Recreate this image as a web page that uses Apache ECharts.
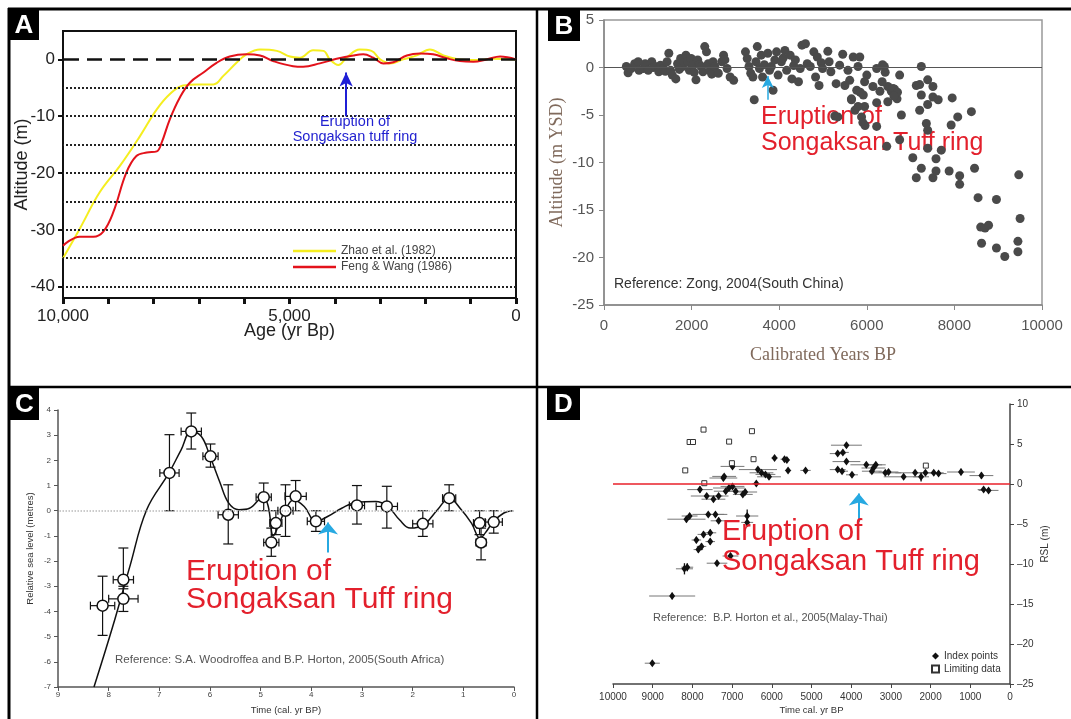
<!DOCTYPE html>
<html>
<head>
<meta charset="utf-8">
<script src="https://cdn.jsdelivr.net/npm/echarts@6/dist/echarts.min.js"></script>
<style>
html, body { margin: 0; padding: 0; background: #fff; }
#chart { width: 1071px; height: 719px; }
</style>
</head>
<body>
<div id="chart"></div>
<script>
// ---- panel A : sea-level curves (age yr BP, altitude m)
var zhaoA = [[10000,-35],[9630,-29.8],[9190,-23.4],[8740,-18.7],[8300,-13.5],[7930,-8.8],[7640,-6.1],[7350,-4.6],
  [7050,-4.4],[6680,-4.4],[6460,-2.9],[6170,-0.6],[5950,0.9],[5650,1.75],[5280,1.5],[4990,0.5],[4770,0.3],[4480,1.6],
  [4250,1.5],[4110,0],[3920,-1.0],[3740,0.3],[3450,1.75],[3190,1.5],[3000,0],[2780,-0.7],[2490,0],[2190,0.7],
  [1900,1.75],[1600,0.7],[1240,0],[870,-0.1],[500,0.1],[0,0]];
var fengA = [[10000,-32.8],[9630,-31.2],[9330,-31.2],[9110,-30.3],[8890,-26.9],[8600,-19.9],[8380,-17],[8150,-16.4],
  [7930,-16.2],[7820,-14.6],[7640,-10.5],[7420,-6.7],[7200,-4.1],[6900,-2.3],[6610,-0.6],[6320,0.5],[5950,0.9],
  [5650,0.7],[5360,-0.3],[4920,-1.2],[4700,-1.3],[4330,-0.7],[3960,0.1],[3590,0.7],[3370,0.9],[3150,0.3],[2930,-0.7],
  [2710,-0.5],[2410,0.7],[2120,1.05],[1830,0.9],[1530,0.2],[1240,-0.3],[940,-0.4],[650,0],[350,0.5],[0,0]];
var ageLabelsA = [10000, 5000, 0];
var altLabelsA = [0, -10, -20, -30, -40];
var dottedLevelsA = [-5, -10, -15, -20, -25, -30, -35, -40];

// ---- panel B : Zong 2004 scatter (calibrated yr BP, m YSD)
var zongB = [
  [510,0.1],[550,-0.55],[620,-0.1],[700,0.4],[780,0.6],[800,-0.3],[900,-0.1],[940,0.4],[1010,-0.3],[1090,0.6],
  [1120,0],[1170,0.1],[1250,-0.45],[1290,0.25],[1360,-0.1],[1400,-0.4],[1440,0.6],[1480,1.5],[1520,-0.3],[1560,-0.8],
  [1640,-1.2],[1680,0.4],[1720,-0.2],[1750,0.95],[1790,0.1],[1830,0.5],[1870,1.3],[1910,0.6],[1950,-0.3],[1990,0.95],
  [2030,0.25],[2060,-0.5],[2100,-1.3],[2140,0.8],[2180,0.3],[2220,0.1],[2260,-0.45],[2300,2.2],[2340,1.65],[2380,0.4],
  [2420,-0.3],[2460,-0.7],[2490,0.6],[2530,0.1],[2610,-0.6],[2690,0.6],[2730,1.3],[2760,0.8],[2810,-0.1],[2880,-1.0],
  [2960,-1.35],
  [3230,1.65],[3270,0.95],[3310,0.1],[3350,-0.6],[3400,-1.0],[3430,-3.4],[3470,0.6],[3500,2.2],[3550,-0.1],[3590,1.3],
  [3620,-1.0],[3660,0.3],[3740,1.5],[3780,-0.3],[3820,0.1],[3860,-2.4],[3900,0.8],[3940,1.65],[3975,-0.8],[4050,0.6],
  [4090,1.0],[4130,1.8],[4170,-0.3],[4250,1.3],[4290,-1.2],[4330,0.2],[4370,0.8],[4440,-1.5],[4480,-0.1],[4520,2.35],
  [4600,2.5],[4640,0.4],[4710,0.1],[4790,1.65],[4830,-1.0],[4870,1.1],[4910,-1.9],[4960,0.5],
  [4990,-0.1],[5110,1.7],[5140,0.6],[5180,-0.45],[5270,-5.1],[5300,-1.7],[5340,-5.2],[5380,0.25],[5450,1.4],[5500,-1.9],
  [5570,-0.3],[5610,-1.35],[5650,-3.4],[5690,1.1],[5730,-4.5],[5770,-2.4],[5800,0.1],[5840,1.1],[5850,-2.6],[5880,-5.2],
  [5910,-5.8],[5920,-2.9],[5950,-4.1],[5960,-6.1],[6000,-0.8],[5950,-1.5],[5800,-4.1],[5650,-3.3],
  [6140,-2.0],[6225,-0.1],[6225,-3.7],[6225,-6.2],[6300,-2.5],[6360,0.3],[6400,0.1],[6455,-8.3],[6480,-3.6],[6480,-2.0],
  [6560,-2.5],[6600,-2.2],[6636,-2.3],[6690,-3.3],[6750,-0.8],[6750,-7.6],[6790,-5.0],[6700,-2.6],[6620,-3.0],[6350,-1.5],
  [6420,-0.5],
  [7050,-9.5],[7130,-11.6],[7130,-1.9],[7207,-1.8],[7207,-4.5],[7245,0.1],[7245,-2.9],[7245,-10.6],[7360,-5.9],[7390,-1.3],
  [7390,-3.9],[7390,-6.6],[7390,-8.5],[7510,-2.0],[7510,-3.1],[7510,-11.6],[7580,-9.6],[7580,-10.9],[7630,-3.4],[7700,-8.7],
  [7880,-10.9],[7926,-6.05],[7950,-3.2],[8076,-5.2],[8120,-11.4],[8120,-12.3],[8388,-4.65],[8460,-10.6],[8540,-13.7],
  [8600,-16.8],[8620,-18.5],[8700,-16.9],[8780,-16.6],[8960,-13.9],[8960,-19.0],[9150,-19.9],[9450,-19.4],[9450,-18.3],
  [9470,-11.3],[9500,-15.9]];

// ---- panel C : Woodroffe & Horton 2005 (ka BP, m)
var curveC = [[8.29,-7.0],[7.92,-4.6],[7.58,-2.2],[7.25,0.04],[6.81,1.5],[6.57,2.42],[6.37,3.15],[6.17,2.95],[6.0,2.16],
  [5.8,1.1],[5.63,0.3],[5.43,0.04],[5.22,0.1],[4.95,0.54],[4.85,0.17],[4.75,-1.0],[4.65,-0.6],[4.52,0],[4.35,0.44],
  [4.14,0.17],[3.91,-0.42],[3.67,-0.22],[3.4,0.1],[3.1,0.34],[2.73,0.37],[2.49,0.17],[2.26,-0.36],[2.05,-0.69],
  [1.78,-0.56],[1.51,0.04],[1.28,0.5],[1.04,0.04],[0.84,-0.49],[0.67,-1.09],[0.57,-0.89],[0.4,-0.42],[0.2,-0.09],[0.03,0]];
// [age, rsl, ageError, rslLow, rslHigh]
var pointsC = [[8.12,-3.77,0.24,-4.95,-2.6],[7.71,-2.74,0.2,-3.1,-1.48],[7.71,-3.5,0.29,-4.0,-3.0],[6.8,1.5,0.19,0.0,3.02],
  [6.37,3.15,0.2,2.45,3.88],[5.99,2.16,0.15,1.73,2.65],[5.64,-0.16,0.2,-1.32,1.03],[4.94,0.54,0.15,0.0,1.1],
  [4.79,-1.26,0.15,-1.81,-0.69],[4.7,-0.49,0.12,-0.95,0.0],[4.51,0.0,0.15,-1.02,1.03],[4.31,0.57,0.21,0.0,1.2],
  [3.91,-0.42,0.17,-0.82,0.0],[3.1,0.21,0.15,-0.53,1.0],[2.51,0.17,0.21,-0.69,0.97],[1.8,-0.52,0.2,-1.02,0.0],
  [1.28,0.5,0.13,0.0,1.03],[0.68,-0.49,0.12,-0.95,0.0],[0.65,-1.26,0.1,-1.95,-0.69],[0.4,-0.45,0.17,-0.89,0.0]];

// ---- panel D : Horton et al. 2005 Malay-Thai (cal yr BP, RSL m)
// [age, rsl, ageError, rslError]
var indexD = [[9010,-22.4,190,0.3],[8510,-14.0,580,0.4],[8200,-10.6,215,0.7],[8130,-10.4,150,0.5],[7900,-7.0,120,0.4],
  [7850,-8.2,120,0.4],[7770,-7.8,120,0.4],[7720,-6.3,150,0.4],[7550,-6.1,150,0.4],[7550,-7.2,120,0.4],[7380,-9.9,260,0.3],
  [7040,-9.0,200,0.4],[8150,-4.4,480,0.4],[8070,-4.0,200,0.3],[7600,-3.8,400,0.3],[7420,-3.8,300,0.3],[7340,-4.6,200,0.4],
  [6620,-4.0,280,0.8],[6620,-4.8,150,0.5],[7810,-0.7,320,0.4],[7640,-1.5,400,0.3],[7470,-1.9,300,0.3],[7340,-1.5,250,0.3],
  [7220,0.75,350,0.4],[7200,0.95,300,0.3],[7160,-0.9,300,0.3],[7080,-0.5,400,0.3],[6990,-0.3,300,0.3],[6910,-0.9,250,0.3],
  [6730,-1.3,250,0.3],[6670,-1.0,300,0.3],[6990,2.2,300,0.3],[6390,0.05,100,0.3],[6350,1.8,480,0.3],[6260,1.4,300,0.3],
  [6160,1.2,250,0.3],[6070,0.9,300,0.3],[5930,3.25,80,0.2],[5680,3.1,100,0.2],[5620,3.0,80,0.2],[5590,1.7,80,0.3],
  [5150,1.7,130,0.3],[4340,3.8,200,0.3],[4210,3.95,150,0.3],[4120,4.85,390,0.3],[4120,2.8,350,0.3],[4340,1.8,200,0.3],
  [4230,1.6,150,0.3],[3980,1.15,150,0.3],[3620,2.4,400,0.3],[3440,2.0,300,0.3],[3380,2.4,250,0.3],[3480,1.6,250,0.3],
  [3140,1.4,400,0.3],[3060,1.5,250,0.3],[2680,0.9,500,0.3],[2390,1.4,500,0.3],[2240,0.9,200,0.6],[2130,1.4,300,0.3],
  [1920,1.4,250,0.3],[1800,1.3,200,0.3],[1235,1.5,350,0.4],[720,1.05,300,0.4],[665,-0.7,150,0.3],[540,-0.8,250,0.3]];
var limitingD = [[7720,6.8],[8070,5.25],[7985,5.25],[7075,5.3],[6500,6.6],[6460,3.1],[8180,1.7],[7005,2.6],[2120,2.3],[7700,0.1]];

var SANS = '"Liberation Sans", Arial, sans-serif';
var SERIF = '"Liberation Serif", "Times New Roman", serif';
var RED = '#e3202c';
var CYAN = '#27a9e1';

function noSplit() { return { show: false }; }
function plain(v) { return String(v); }

function errC(params, api) {
  var t = api.value(0), a = api.value(1), xe = api.value(2), lo = api.value(3), hi = api.value(4);
  var l = api.coord([t + xe, a]), r = api.coord([t - xe, a]);
  var top = api.coord([t, hi]), bot = api.coord([t, lo]);
  var st = { stroke: '#111', lineWidth: 1.2 };
  return { type: 'group', children: [
    { type: 'line', shape: { x1: l[0], y1: l[1], x2: r[0], y2: r[1] }, style: st },
    { type: 'line', shape: { x1: l[0], y1: l[1] - 4, x2: l[0], y2: l[1] + 4 }, style: st },
    { type: 'line', shape: { x1: r[0], y1: r[1] - 4, x2: r[0], y2: r[1] + 4 }, style: st },
    { type: 'line', shape: { x1: top[0], y1: top[1], x2: bot[0], y2: bot[1] }, style: st },
    { type: 'line', shape: { x1: top[0] - 5, y1: top[1], x2: top[0] + 5, y2: top[1] }, style: st },
    { type: 'line', shape: { x1: bot[0] - 5, y1: bot[1], x2: bot[0] + 5, y2: bot[1] }, style: st }
  ]};
}

function errD(params, api) {
  var t = api.value(0), a = api.value(1), xe = api.value(2), ye = api.value(3);
  var l = api.coord([t + xe, a]), r = api.coord([t - xe, a]);
  var top = api.coord([t, a + ye]), bot = api.coord([t, a - ye]);
  return { type: 'group', children: [
    { type: 'line', shape: { x1: l[0], y1: l[1], x2: r[0], y2: r[1] }, style: { stroke: '#777', lineWidth: 1 } },
    { type: 'line', shape: { x1: top[0], y1: top[1], x2: bot[0], y2: bot[1] }, style: { stroke: '#111', lineWidth: 1.3 } }
  ]};
}

function txt(x, y, s, font, fill, align, z) {
  return { type: 'text', x: x, y: y, z: z == null ? 100 : z,
    style: { text: s, font: font, fill: fill, textAlign: align || 'left', textVerticalAlign: 'middle' } };
}
function hline(x1, y1, x2, y2, w) {
  return { type: 'line', z: 100, shape: { x1: x1, y1: y1, x2: x2, y2: y2 }, style: { stroke: '#000', lineWidth: w } };
}
function badge(x, y, w, h, s) {
  return [
    { type: 'rect', z: 101, shape: { x: x, y: y, width: w, height: h }, style: { fill: '#000' } },
    { type: 'text', z: 102, x: x + w / 2, y: y + h / 2 + 1,
      style: { text: s, font: 'bold 26px ' + SANS, fill: '#fff', textAlign: 'center', textVerticalAlign: 'middle' } }
  ];
}

var myChart = echarts.init(document.getElementById('chart'));

var option = {
  animation: false,
  backgroundColor: '#fff',
  grid: [
    { left: 63, top: 31, width: 453, height: 267, show: true, borderColor: '#111', borderWidth: 2 },
    { left: 604, top: 20, width: 438, height: 285, show: true, borderColor: '#999', borderWidth: 1.5 },
    { left: 58, top: 410, width: 456, height: 277 },
    { left: 613, top: 404, width: 397, height: 280 }
  ],
  xAxis: [
    { gridIndex: 0, type: 'value', inverse: true, min: 0, max: 10000, interval: 1000,
      axisLine: { show: true, onZero: false, lineStyle: { color: '#111', width: 2 } },
      axisTick: { show: true, length: 6, lineStyle: { color: '#111', width: 3 } },
      axisLabel: { customValues: ageLabelsA, formatter: function (v) { return v.toLocaleString('en-US'); },
        fontSize: 17, color: '#222', fontFamily: SANS, margin: 10 },
      splitLine: noSplit(),
      name: 'Age (yr Bp)', nameLocation: 'middle', nameGap: 24, nameMoveOverlap: false,
      nameTextStyle: { fontSize: 18, color: '#222', fontFamily: SANS } },
    { gridIndex: 1, type: 'value', min: 0, max: 10000, interval: 2000,
      axisLine: { show: true, onZero: false, lineStyle: { color: '#888', width: 1.5 } },
      axisTick: { show: true, length: 5, lineStyle: { color: '#888' } },
      axisLabel: { fontSize: 15, color: '#555', fontFamily: SANS, margin: 13, formatter: plain },
      splitLine: noSplit(),
      name: 'Calibrated Years BP', nameLocation: 'middle', nameGap: 41, nameMoveOverlap: false,
      nameTextStyle: { fontSize: 18, color: '#806a5c', fontFamily: SERIF } },
    { gridIndex: 2, type: 'value', inverse: true, min: 0, max: 9, interval: 1,
      axisLine: { show: true, onZero: false, lineStyle: { color: '#555', width: 1.5 } },
      axisTick: { show: true, length: 4, lineStyle: { color: '#555' } },
      axisLabel: { fontSize: 8, color: '#444', fontFamily: SANS, margin: 4, formatter: plain },
      splitLine: noSplit(),
      name: 'Time (cal. yr BP)', nameLocation: 'middle', nameGap: 18, nameMoveOverlap: false,
      nameTextStyle: { fontSize: 9.5, color: '#333', fontFamily: SANS } },
    { gridIndex: 3, type: 'value', inverse: true, min: 0, max: 10000, interval: 1000,
      axisLine: { show: true, onZero: false, lineStyle: { color: '#444', width: 1.5 } },
      axisTick: { show: true, length: 4, lineStyle: { color: '#444' } },
      axisLabel: { fontSize: 10, color: '#333', fontFamily: SANS, margin: 8, formatter: plain },
      splitLine: noSplit(),
      name: 'Time cal. yr BP', nameLocation: 'middle', nameGap: 21, nameMoveOverlap: false,
      nameTextStyle: { fontSize: 9.5, color: '#333', fontFamily: SANS } }
  ],
  yAxis: [
    { gridIndex: 0, type: 'value', min: -42, max: 5,
      axisLine: { show: true, onZero: false, lineStyle: { color: '#111', width: 2 } },
      axisTick: { show: true, length: 5, customValues: altLabelsA, lineStyle: { color: '#111', width: 2 } },
      axisLabel: { customValues: altLabelsA, fontSize: 17, color: '#222', fontFamily: SANS, margin: 8 },
      splitLine: noSplit(),
      name: 'Altitude (m)', nameLocation: 'middle', nameRotate: 90, nameGap: 32, nameMoveOverlap: false,
      nameTextStyle: { fontSize: 18, color: '#222', fontFamily: SANS } },
    { gridIndex: 1, type: 'value', min: -25, max: 5, interval: 5,
      axisLine: { show: true, onZero: false, lineStyle: { color: '#888', width: 1.5 } },
      axisTick: { show: true, length: 5, lineStyle: { color: '#888' } },
      axisLabel: { fontSize: 15, color: '#555', fontFamily: SANS, margin: 10, formatter: plain },
      splitLine: noSplit(),
      name: 'Altitude (m YSD)', nameLocation: 'middle', nameRotate: 90, nameGap: 38, nameMoveOverlap: false,
      nameTextStyle: { fontSize: 18, color: '#806a5c', fontFamily: SERIF } },
    { gridIndex: 2, type: 'value', min: -7, max: 4, interval: 1,
      axisLine: { show: true, onZero: false, lineStyle: { color: '#555', width: 1.5 } },
      axisTick: { show: true, length: 4, lineStyle: { color: '#555' } },
      axisLabel: { fontSize: 8, color: '#444', fontFamily: SANS, margin: 7, formatter: plain },
      splitLine: noSplit(),
      name: 'Relative sea level (metres)', nameLocation: 'middle', nameRotate: 90, nameGap: 23, nameMoveOverlap: false,
      nameTextStyle: { fontSize: 9.5, color: '#333', fontFamily: SANS } },
    { gridIndex: 3, type: 'value', position: 'right', min: -25, max: 10, interval: 5,
      axisLine: { show: true, onZero: false, lineStyle: { color: '#444', width: 1.5 } },
      axisTick: { show: true, length: 4, lineStyle: { color: '#444' } },
      axisLabel: { fontSize: 10, color: '#333', fontFamily: SANS, margin: 7,
        formatter: function (v) { return String(v).replace('-', '\u2013'); } },
      splitLine: noSplit(),
      name: 'RSL (m)', nameLocation: 'middle', nameRotate: 90, nameGap: 30, nameMoveOverlap: false,
      nameTextStyle: { fontSize: 10, color: '#333', fontFamily: SANS } }
  ],
  legend: [
    { data: ['Zhao et al. (1982)', 'Feng & Wang (1986)'], orient: 'vertical', left: 288, top: 240,
      icon: 'rect', itemWidth: 43, itemHeight: 2.5, itemGap: 4, selectedMode: false,
      textStyle: { fontSize: 12, color: '#444', fontFamily: SANS } },
    { data: ['Index points', 'Limiting data'], orient: 'vertical', left: 926, top: 646,
      itemWidth: 7, itemHeight: 7, itemGap: 3, selectedMode: false,
      textStyle: { fontSize: 10, color: '#333', fontFamily: SANS } }
  ],
  series: [
    // A
    { type: 'line', xAxisIndex: 0, yAxisIndex: 0, data: [], z: 1, silent: true,
      markLine: { silent: true, symbol: 'none', label: { show: false },
        data: dottedLevelsA.map(function (v) { return { yAxis: v, lineStyle: { type: 'dotted', color: '#222', width: 2 } }; })
          .concat([{ yAxis: 0, lineStyle: { type: [15, 8], color: '#111', width: 2.5 } }]) } },
    { name: 'Zhao et al. (1982)', type: 'line', xAxisIndex: 0, yAxisIndex: 0, data: zhaoA, smooth: 0.4,
      symbol: 'none', lineStyle: { color: '#f5ee1f', width: 2 }, itemStyle: { color: '#f5ee1f' } },
    { name: 'Feng & Wang (1986)', type: 'line', xAxisIndex: 0, yAxisIndex: 0, data: fengA, smooth: 0.4,
      symbol: 'none', lineStyle: { color: '#e3121b', width: 2 }, itemStyle: { color: '#e3121b' },
      markLine: { silent: true, symbol: ['none', 'arrow'], symbolSize: [10, 14], label: { show: false },
        lineStyle: { color: '#1f1fd6', width: 2, type: 'solid' },
        data: [[{ coord: [3750, -10] }, { coord: [3750, -2.3] }]] } },
    // B
    { type: 'scatter', xAxisIndex: 1, yAxisIndex: 1, data: zongB, symbolSize: 9, z: 3,
      itemStyle: { color: '#4a4a4a', opacity: 1 },
      markLine: { silent: true, symbol: 'none', label: { show: false },
        data: [{ yAxis: 0, lineStyle: { color: '#555', width: 1.2, type: 'solid' } }] } },
    { type: 'line', xAxisIndex: 1, yAxisIndex: 1, data: [], z: 5, silent: true,
      markLine: { silent: true, symbol: ['none', 'arrow'], symbolSize: [9, 12], label: { show: false },
        lineStyle: { color: CYAN, width: 1.5, type: 'solid' },
        data: [[{ coord: [3740, -3.4] }, { coord: [3740, -0.9] }]] } },
    // C
    { type: 'line', xAxisIndex: 2, yAxisIndex: 2, data: [], z: 1, silent: true,
      markLine: { silent: true, symbol: 'none', label: { show: false },
        data: [{ yAxis: 0, lineStyle: { color: '#bbb', width: 1.5, type: 'dotted' } }] } },
    { type: 'line', xAxisIndex: 2, yAxisIndex: 2, data: curveC, smooth: 0.4, symbol: 'none',
      lineStyle: { color: '#111', width: 1.5 } },
    { type: 'custom', xAxisIndex: 2, yAxisIndex: 2, data: pointsC, renderItem: errC, encode: { x: 0, y: 1 }, z: 3 },
    { type: 'scatter', xAxisIndex: 2, yAxisIndex: 2, data: pointsC, symbol: 'circle', symbolSize: 11, z: 4,
      itemStyle: { color: '#fff', borderColor: '#111', borderWidth: 1.5, opacity: 1 },
      markLine: { silent: true, symbol: ['none', 'arrow'], symbolSize: [15, 12], label: { show: false },
        lineStyle: { color: CYAN, width: 2, type: 'solid' },
        data: [[{ coord: [3.67, -1.66] }, { coord: [3.67, -0.47] }]] } },
    // D
    { type: 'line', xAxisIndex: 3, yAxisIndex: 3, data: [], z: 1, silent: true,
      markLine: { silent: true, symbol: 'none', label: { show: false },
        data: [{ yAxis: 0, lineStyle: { color: '#e8202a', width: 1.5, type: 'solid' } }] } },
    { type: 'custom', xAxisIndex: 3, yAxisIndex: 3, data: indexD, renderItem: errD, encode: { x: 0, y: 1 }, z: 3 },
    { name: 'Index points', type: 'scatter', xAxisIndex: 3, yAxisIndex: 3, data: indexD, symbol: 'diamond',
      symbolSize: [6, 8], z: 4, itemStyle: { color: '#111', opacity: 1 } },
    { name: 'Limiting data', type: 'scatter', xAxisIndex: 3, yAxisIndex: 3, data: limitingD, symbol: 'rect',
      symbolSize: 5, z: 4, itemStyle: { color: '#fff', borderColor: '#333', borderWidth: 1, opacity: 1 },
      markLine: { silent: true, symbol: ['none', 'arrow'], symbolSize: [15, 12], label: { show: false },
        lineStyle: { color: CYAN, width: 2, type: 'solid' },
        data: [[{ coord: [3810, -4.75] }, { coord: [3810, -1.2] }]] } }
  ],
  graphic: { elements: [
    hline(8, 9, 1071, 9, 3),
    hline(9, 8, 9, 719, 3),
    hline(537, 8, 537, 719, 2.5),
    hline(8, 387, 1071, 387, 2.5)
  ].concat(badge(9, 9, 30, 31, 'A'), badge(548, 10, 32, 31, 'B'), badge(10, 388, 29, 32, 'C'), badge(547, 388, 33, 32, 'D'), [
    txt(355, 122, 'Eruption of', '14.5px ' + SANS, '#2222d0', 'center'),
    txt(355, 137, 'Songaksan tuff ring', '14.5px ' + SANS, '#2222d0', 'center'),
    txt(761, 117, 'Eruption of', '25px ' + SANS, RED, 'left', 1),
    txt(761, 143, 'Songaksan Tuff ring', '25px ' + SANS, RED, 'left', 1),
    txt(614, 284, 'Reference: Zong, 2004(South China)', '14px ' + SANS, '#333'),
    txt(186, 572, 'Eruption of', '30px ' + SANS, RED),
    txt(186, 600, 'Songaksan Tuff ring', '30px ' + SANS, RED),
    txt(115, 660, 'Reference: S.A. Woodroffea and B.P. Horton, 2005(South Africa)', '11.5px ' + SANS, '#555'),
    txt(722, 532, 'Eruption of', '29px ' + SANS, RED),
    txt(722, 562, 'Songaksan Tuff ring', '29px ' + SANS, RED),
    txt(653, 618, 'Reference:  B.P. Horton et al., 2005(Malay-Thai)', '11px ' + SANS, '#555')
  ]) }
};

myChart.setOption(option);
</script>
</body>
</html>
